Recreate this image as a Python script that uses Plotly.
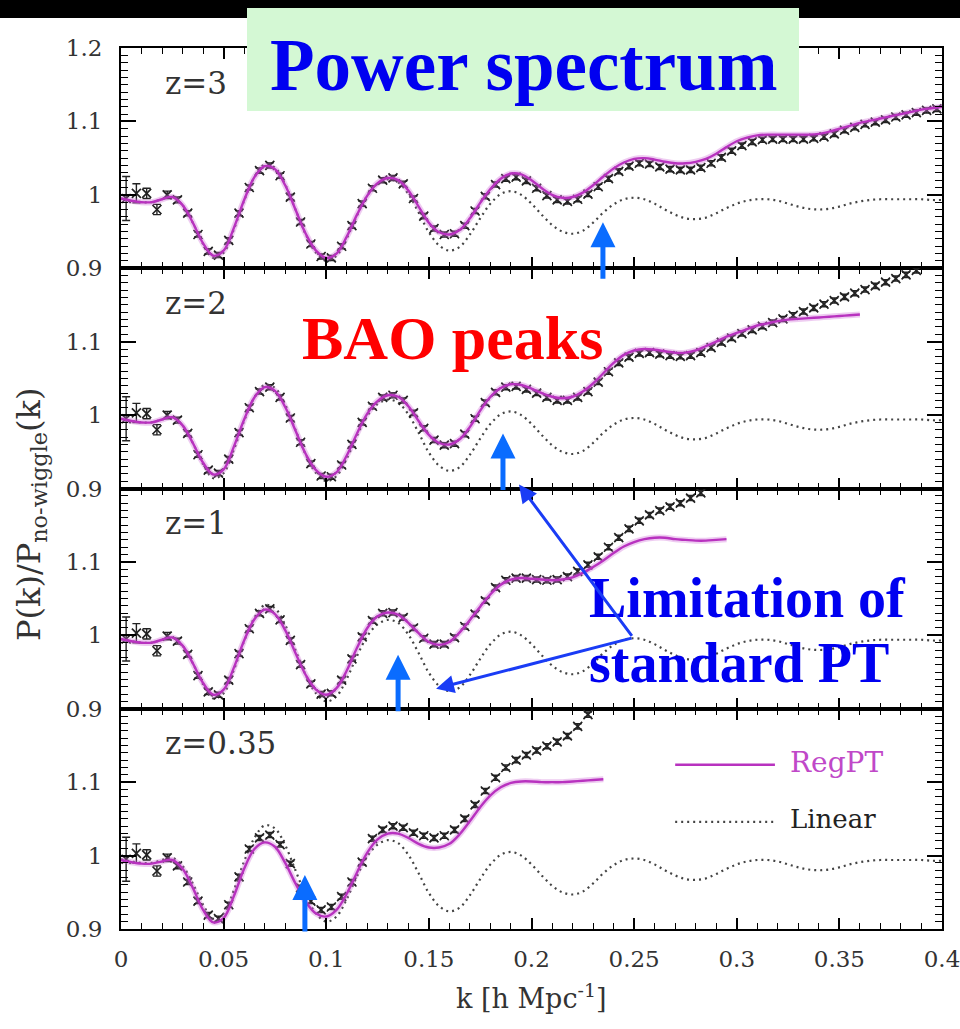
import numpy as np
import plotly.graph_objects as go
from plotly.subplots import make_subplots

# ---------------------------------------------------------------- data
# wavenumber sampling (h/Mpc): smooth curves and N-body bins
K_LINE = np.round(np.arange(0.0, 0.40001, 0.005), 4)
K_NBODY = np.round(np.arange(0.0025, 0.4, 0.005), 4)

REDSHIFT_LABELS = ["z=3", "z=2", "z=1", "z=0.35"]

# linear theory ratio (same at every redshift)
LINEAR = [
    0.995, 0.992, 0.990, 0.990, 0.994, 0.997, 0.986, 0.962, 0.933, 0.914,
    0.921, 0.953, 0.992, 1.024, 1.041, 1.037, 1.014, 0.980, 0.946, 0.921,
    0.910, 0.917, 0.941, 0.972, 0.999, 1.015, 1.021, 1.017, 1.001, 0.976,
    0.949, 0.931, 0.924, 0.929, 0.946, 0.968, 0.988, 1.001, 1.005, 1.000,
    0.988, 0.973, 0.959, 0.950, 0.947, 0.951, 0.962, 0.976, 0.987, 0.994,
    0.996, 0.994, 0.988, 0.980, 0.973, 0.968, 0.967, 0.969, 0.975, 0.982,
    0.988, 0.992, 0.994, 0.994, 0.992, 0.988, 0.984, 0.981, 0.980, 0.981,
    0.984, 0.988, 0.991, 0.993, 0.994, 0.994, 0.994, 0.994, 0.994, 0.993,
    0.993,
]

# RegPT predictions on K_LINE (each stops at its own k_max)
REGPT_Z3 = [
    0.995, 0.992, 0.990, 0.990, 0.994, 0.997, 0.986, 0.962, 0.934, 0.917,
    0.924, 0.955, 0.993, 1.024, 1.039, 1.035, 1.013, 0.980, 0.947, 0.924,
    0.914, 0.920, 0.943, 0.973, 0.999, 1.016, 1.023, 1.020, 1.006, 0.984,
    0.962, 0.949, 0.946, 0.952, 0.968, 0.989, 1.008, 1.022, 1.029, 1.028,
    1.020, 1.009, 1.000, 0.996, 0.997, 1.003, 1.013, 1.025, 1.036, 1.044,
    1.049, 1.050, 1.048, 1.045, 1.043, 1.043, 1.045, 1.049, 1.056, 1.065,
    1.073, 1.078, 1.081, 1.082, 1.082, 1.082, 1.082, 1.082, 1.083, 1.086,
    1.090, 1.094, 1.098, 1.101, 1.104, 1.107, 1.110, 1.113, 1.116, 1.118,
    1.120,
]
REGPT_Z2 = [
    0.995, 0.992, 0.990, 0.990, 0.994, 0.997, 0.986, 0.962, 0.935, 0.919,
    0.926, 0.957, 0.994, 1.024, 1.038, 1.033, 1.011, 0.979, 0.947, 0.925,
    0.916, 0.922, 0.945, 0.975, 1.002, 1.019, 1.027, 1.025, 1.012, 0.992,
    0.973, 0.962, 0.960, 0.967, 0.984, 1.006, 1.025, 1.037, 1.042, 1.041,
    1.036, 1.030, 1.025, 1.023, 1.025, 1.032, 1.043, 1.057, 1.071, 1.082,
    1.088, 1.090, 1.089, 1.087, 1.085, 1.085, 1.088, 1.094, 1.100, 1.107,
    1.112, 1.117, 1.122, 1.125, 1.128, 1.130, 1.131, 1.132, 1.133, 1.134,
    1.135, 1.136, 1.137,
]
REGPT_Z1 = [
    0.995, 0.992, 0.990, 0.990, 0.994, 0.997, 0.986, 0.962, 0.935, 0.919,
    0.926, 0.956, 0.993, 1.022, 1.035, 1.029, 1.007, 0.976, 0.946, 0.926,
    0.919, 0.928, 0.952, 0.983, 1.010, 1.026, 1.031, 1.028, 1.017, 1.003,
    0.991, 0.987, 0.991, 1.004, 1.021, 1.039, 1.056, 1.069, 1.076, 1.078,
    1.077, 1.076, 1.075, 1.076, 1.079, 1.085, 1.093, 1.102, 1.112, 1.121,
    1.127, 1.131, 1.133, 1.133, 1.131, 1.130, 1.129, 1.129, 1.130, 1.131,
]
REGPT_Z035 = [
    0.994, 0.991, 0.989, 0.989, 0.992, 0.994, 0.982, 0.956, 0.926, 0.909,
    0.915, 0.945, 0.982, 1.009, 1.018, 1.012, 0.990, 0.962, 0.937, 0.921,
    0.917, 0.926, 0.948, 0.977, 1.004, 1.022, 1.030, 1.030, 1.024, 1.016,
    1.011, 1.011, 1.016, 1.029, 1.047, 1.066, 1.082, 1.093, 1.099, 1.101,
    1.101, 1.100, 1.100, 1.100, 1.101, 1.102, 1.103, 1.104,
]

# N-body measurements on K_NBODY (until they leave the plotted range)
NBODY_Z3 = [
    0.995, 1.002, 1.002, 0.980, 1.000, 0.993, 0.975, 0.946, 0.923, 0.918,
    0.938, 0.975, 1.010, 1.033, 1.040, 1.026, 0.997, 0.963, 0.933, 0.916,
    0.914, 0.930, 0.958, 0.988, 1.009, 1.020, 1.023, 1.015, 0.995, 0.971,
    0.954, 0.946, 0.947, 0.958, 0.978, 0.998, 1.014, 1.022, 1.024, 1.019,
    1.009, 0.999, 0.993, 0.991, 0.994, 1.001, 1.011, 1.022, 1.032, 1.039,
    1.043, 1.042, 1.038, 1.035, 1.034, 1.034, 1.037, 1.043, 1.051, 1.060,
    1.067, 1.072, 1.075, 1.076, 1.076, 1.076, 1.076, 1.077, 1.079, 1.083,
    1.088, 1.092, 1.096, 1.099, 1.102, 1.106, 1.109, 1.112, 1.115, 1.117,
]
NBODY_Z2 = [
    0.995, 1.003, 1.002, 0.980, 1.000, 0.993, 0.975, 0.946, 0.925, 0.921,
    0.940, 0.976, 1.010, 1.032, 1.038, 1.024, 0.996, 0.963, 0.934, 0.917,
    0.916, 0.932, 0.960, 0.990, 1.012, 1.024, 1.027, 1.020, 1.003, 0.982,
    0.966, 0.959, 0.961, 0.974, 0.995, 1.017, 1.031, 1.038, 1.039, 1.035,
    1.030, 1.024, 1.020, 1.020, 1.024, 1.032, 1.045, 1.059, 1.071, 1.079,
    1.084, 1.085, 1.083, 1.081, 1.080, 1.081, 1.085, 1.092, 1.099, 1.105,
    1.111, 1.116, 1.121, 1.126, 1.131, 1.136, 1.141, 1.146, 1.151, 1.156,
    1.161, 1.166, 1.171, 1.176, 1.181, 1.186, 1.191, 1.197,
]
NBODY_Z1 = [
    0.995, 1.003, 1.002, 0.979, 0.999, 0.992, 0.974, 0.945, 0.923, 0.919,
    0.939, 0.975, 1.009, 1.030, 1.036, 1.021, 0.993, 0.960, 0.934, 0.920,
    0.921, 0.939, 0.968, 0.998, 1.020, 1.030, 1.031, 1.024, 1.010, 0.996,
    0.988, 0.988, 0.997, 1.012, 1.029, 1.047, 1.065, 1.075, 1.078, 1.078,
    1.076, 1.075, 1.076, 1.080, 1.087, 1.096, 1.107, 1.120, 1.133, 1.145,
    1.156, 1.164, 1.170, 1.175, 1.180, 1.187, 1.194,
]
NBODY_Z035 = [
    0.995, 1.003, 1.001, 0.979, 0.997, 0.986, 0.964, 0.938, 0.919, 0.914,
    0.933, 0.971, 1.009, 1.024, 1.028, 1.015, 0.989, 0.956, 0.938, 0.926,
    0.930, 0.944, 0.964, 0.991, 1.023, 1.035, 1.040, 1.038, 1.031, 1.027,
    1.024, 1.027, 1.035, 1.050, 1.069, 1.088, 1.106, 1.120, 1.130, 1.137,
    1.143, 1.149, 1.155, 1.163, 1.176, 1.192,
]

# 1-sigma errors of the first bins; later bins share the last value
NBODY_ERR_LOW = [0.030, 0.013, 0.007, 0.007, 0.005, 0.004]
NBODY_ERR_HIGH = 0.0035

REGPT = [REGPT_Z3, REGPT_Z2, REGPT_Z1, REGPT_Z035]
NBODY = [NBODY_Z3, NBODY_Z2, NBODY_Z1, NBODY_Z035]

# ---------------------------------------------------------------- style
W, H = 960, 1029
ML, MR, MT, MB = 121, 18, 48, 100
PW, PH = W - ML - MR, H - MT - MB
PLOT_BOTTOM = H - MB  # pixel row of the lowest x axis

MAGENTA = "#b832bf"
GLOW = "rgba(205,110,215,0.35)"
INK = "#222222"
LABEL = "#333333"
ARROW_BLUE = "#0a6cff"
LINE_BLUE = "#1a3cf5"
TEXT_BLUE = "#0000f0"
SERIF = "DejaVu Serif"
TIMES = "Liberation Serif"


def paper_x(px):
    return (px - ML) / PW


def paper_y(py):
    return (PLOT_BOTTOM - py) / PH


fig = make_subplots(rows=4, cols=1, shared_xaxes=True, vertical_spacing=0)

for i in range(4):
    row = i + 1
    n_reg = len(REGPT[i])
    n_nb = len(NBODY[i])
    err = (NBODY_ERR_LOW + [NBODY_ERR_HIGH] * n_nb)[:n_nb]

    fig.add_trace(go.Scatter(
        x=K_LINE, y=LINEAR, mode="lines", line_shape="spline",
        line=dict(color="#444444", width=2.2, dash="2px,4px"),
        showlegend=False, hoverinfo="skip"), row=row, col=1)

    fig.add_trace(go.Scatter(
        x=K_NBODY[:n_nb], y=NBODY[i], mode="markers",
        marker=dict(symbol="x-thin-open", size=9, color=INK,
                    line=dict(color=INK, width=1.7)),
        error_y=dict(type="data", array=err, width=4, thickness=1.4,
                     color=INK),
        showlegend=False, hoverinfo="skip"), row=row, col=1)

    fig.add_trace(go.Scatter(
        x=K_LINE[:n_reg], y=REGPT[i], mode="lines", line_shape="spline",
        line=dict(color=GLOW, width=6),
        showlegend=False, hoverinfo="skip"), row=row, col=1)
    fig.add_trace(go.Scatter(
        x=K_LINE[:n_reg], y=REGPT[i], mode="lines", line_shape="spline",
        line=dict(color=MAGENTA, width=2.4),
        showlegend=False, hoverinfo="skip"), row=row, col=1)

    yvals = [0.9, 1.0, 1.1, 1.2] if i == 0 else [0.9, 1.0, 1.1]
    ytext = ["0.9", "1", "1.1", "1.2"] if i == 0 else ["0.9", "1", "1.1"]
    fig.update_yaxes(
        range=[0.9, 1.2], tickvals=yvals, ticktext=ytext,
        ticks="inside", ticklen=15, tickwidth=1.5, tickcolor="black",
        minor=dict(dtick=0.01, tick0=0.9, ticks="inside", ticklen=7,
                   tickwidth=1.2, tickcolor="black"),
        showline=True, linewidth=2, linecolor="black", mirror="ticks",
        showgrid=False, zeroline=False, ticklabelstandoff=12,
        automargin=False,
        tickfont=dict(family=SERIF, size=23, color=LABEL),
        row=row, col=1)
    fig.update_xaxes(
        range=[0, 0.4], dtick=0.05, tick0=0,
        ticks="inside", ticklen=11, tickwidth=1.5, tickcolor="black",
        minor=dict(dtick=0.01, ticks="inside", ticklen=6, tickwidth=1.2,
                   tickcolor="black"),
        showline=True, linewidth=2, linecolor="black", mirror="ticks",
        showgrid=False, zeroline=False, ticklabelstandoff=8,
        ticklabeloverflow="allow", automargin=False,
        tickfont=dict(family=SERIF, size=23, color=LABEL),
        row=row, col=1)

annotations = []
shapes = []

# redshift labels
for i, lab in enumerate(REDSHIFT_LABELS):
    sfx = "" if i == 0 else str(i + 1)
    annotations.append(dict(
        x=0.0205, y=1.153, xref="x" + sfx, yref="y" + sfx, text=lab,
        showarrow=False, xanchor="left", yanchor="middle",
        font=dict(family=SERIF, size=31, color=LABEL)))

# legend drawn inside the lowest panel
shapes.append(dict(type="line", xref="x4", yref="y4", x0=0.27, x1=0.3186,
                   y0=1.1237, y1=1.1237,
                   line=dict(color=MAGENTA, width=2.4)))
shapes.append(dict(type="line", xref="x4", yref="y4", x0=0.27, x1=0.3186,
                   y0=1.046, y1=1.046,
                   line=dict(color="#444444", width=2.2, dash="2px,4px")))
annotations.append(dict(x=0.3249, y=1.1265, xref="x4", yref="y4",
                        text="RegPT", showarrow=False, xanchor="left",
                        font=dict(family=SERIF, size=28, color="#c048c8")))
annotations.append(dict(x=0.3249, y=1.050, xref="x4", yref="y4",
                        text="Linear", showarrow=False, xanchor="left",
                        font=dict(family=SERIF, size=26, color=INK)))

# axis titles
annotations.append(dict(
    x=paper_x(531), y=paper_y(996), xref="paper", yref="paper",
    text="k [h Mpc<sup>-1</sup>]", showarrow=False, yanchor="middle",
    font=dict(family=SERIF, size=27, color=LABEL)))
annotations.append(dict(
    x=paper_x(8), y=paper_y(515), xref="paper", yref="paper",
    text="P(k)/P<sub>no-wiggle</sub>(k)", showarrow=False, textangle=-90,
    xanchor="left", yanchor="middle",
    font=dict(family=SERIF, size=32, color=LABEL)))

# black band and title box
shapes.append(dict(type="rect", xref="paper", yref="paper",
                   x0=paper_x(0), x1=paper_x(W), y0=paper_y(18), y1=paper_y(0),
                   fillcolor="black", line=dict(width=0), layer="above"))
shapes.append(dict(type="rect", xref="paper", yref="paper",
                   x0=paper_x(247), x1=paper_x(799), y0=paper_y(111),
                   y1=paper_y(8), fillcolor="#d4f8d4", line=dict(width=0),
                   layer="above"))
annotations.append(dict(
    x=paper_x(523), y=paper_y(65), xref="paper", yref="paper",
    text="<b>Power spectrum</b>", showarrow=False, yanchor="middle",
    font=dict(family=TIMES, size=73, color=TEXT_BLUE)))

annotations.append(dict(
    x=paper_x(452), y=paper_y(338), xref="paper", yref="paper",
    text="<b>BAO peaks</b>", showarrow=False, yanchor="middle",
    font=dict(family=TIMES, size=62, color="#ff0000")))

annotations.append(dict(
    x=paper_x(587), y=paper_y(598), xref="paper", yref="paper",
    text="<b>Limitation of</b>", showarrow=False, xanchor="left",
    yanchor="middle", font=dict(family=TIMES, size=56, color=TEXT_BLUE)))
annotations.append(dict(
    x=paper_x(587), y=paper_y(663), xref="paper", yref="paper",
    text="<b>standard PT</b>", showarrow=False, xanchor="left",
    yanchor="middle", font=dict(family=TIMES, size=56, color=TEXT_BLUE)))

# vertical arrows marking where standard PT departs
for sfx, k, v in [("", 0.2348, 0.9628), ("2", 0.1861, 0.975),
                  ("3", 0.135, 0.9737), ("4", 0.0896, 0.9737)]:
    annotations.append(dict(
        x=k, y=v, xref="x" + sfx, yref="y" + sfx, text="", showarrow=True,
        ax=0, ay=58, arrowhead=2, arrowwidth=5, arrowsize=1.0,
        arrowcolor=ARROW_BLUE))

# pointer lines from the "Limitation" label
annotations.append(dict(
    x=0.1939, y=0.9055, xref="x2", yref="y2", text="", showarrow=True,
    ax=114, ay=153, arrowhead=2, arrowwidth=3, arrowsize=1.2,
    arrowcolor=LINE_BLUE))
annotations.append(dict(
    x=0.1535, y=0.9273, xref="x3", yref="y3", text="", showarrow=True,
    ax=197, ay=-51, arrowhead=2, arrowwidth=3, arrowsize=1.2,
    arrowcolor=LINE_BLUE))

fig.update_layout(
    width=W, height=H, autosize=False,
    margin=dict(l=ML, r=MR, t=MT, b=MB, autoexpand=False),
    paper_bgcolor="white", plot_bgcolor="white",
    showlegend=False,
    annotations=annotations, shapes=shapes,
)

PAGE_CSS = (
    "html,body{margin:0;padding:0;overflow:hidden;background:#fff;"
    "scrollbar-width:none}"
    "::-webkit-scrollbar{display:none;width:0;height:0}"
)

fig.write_html(
    "out.html",
    config={"responsive": False},
    post_script=(
        "var s=document.createElement('style');"
        "s.textContent='" + PAGE_CSS + "';"
        "document.head.appendChild(s);"
    ),
)
